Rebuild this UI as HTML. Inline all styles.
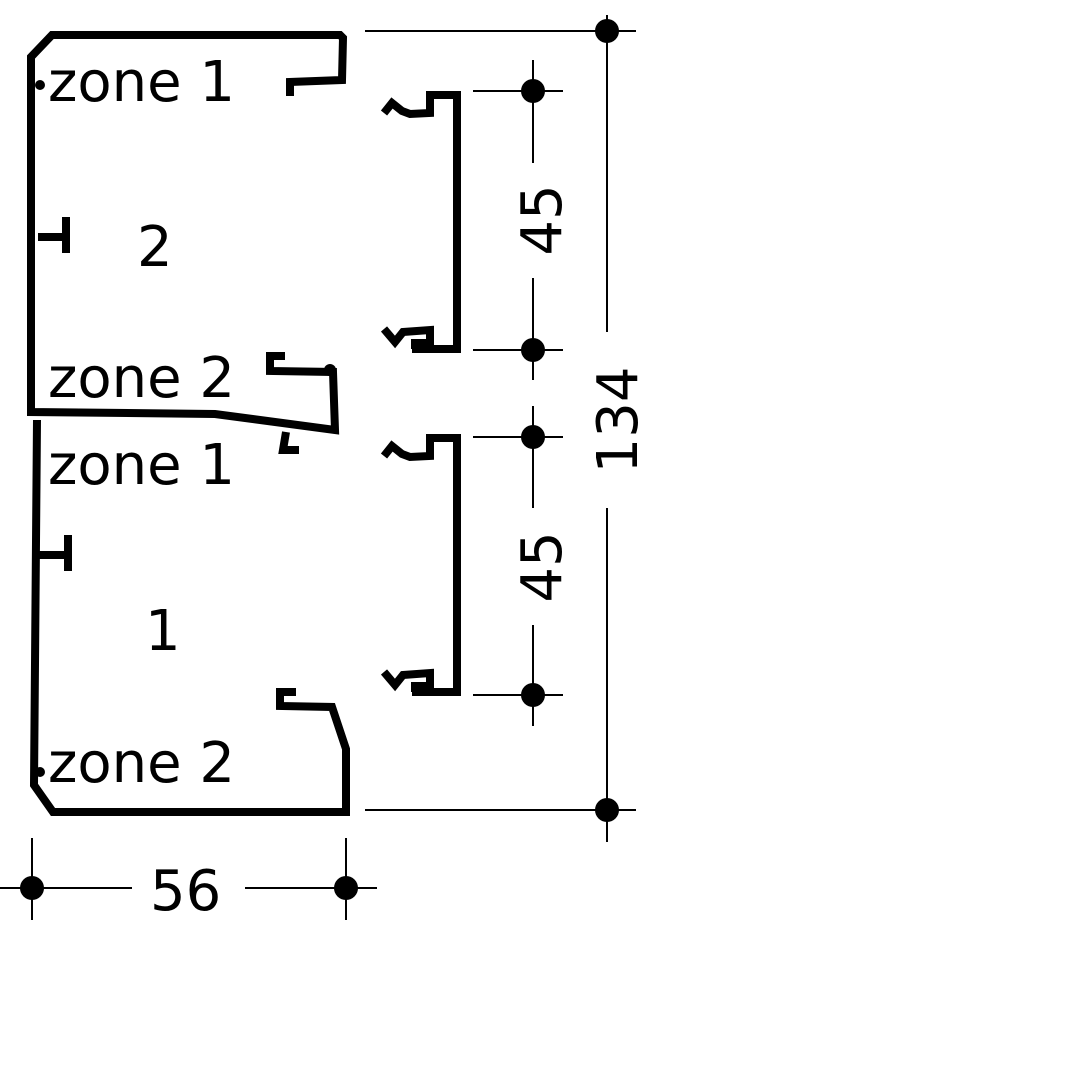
<!DOCTYPE html><html><head><style>body{margin:0;background:#fff}svg{display:block}text{font-family:"DejaVu Sans","Liberation Sans",sans-serif;fill:#000}</style></head><body>
<svg width="1080" height="1080" viewBox="0 0 1080 1080">
<g fill="none" stroke="#000" stroke-width="8" stroke-linejoin="miter">
<path d="M290,96 L290,82 L342,80 L343,38 L340,35 L52,35 L31,57 L31,412 L215,414 L335,430 L333,372 L270,371 L270,356 L285,356"/>
<path d="M37,420 L34,785 L53,812 L346,812 L346,749 L332,707 L280,706 L280,692 L296,692"/>
<path d="M286,432 L283,450 L299,450"/>
<path d="M38,237 L66,237 M66,217 L66,253 M38,555 L68,555 M68,535 L68,571"/>
<path d="M384,113 L392,103 L402,111 L410,114 L430,113 L430,95 L457,95 L457,349 L412,349 M384,329 L395,342 L403,332 L430,330 L430,343 L415,343 L415,349"/>
<path d="M384,456 L392,446 L402,454 L410,457 L430,456 L430,438 L457,438 L457,692 L412,692 M384,672 L395,685 L403,675 L430,673 L430,686 L415,686 L415,692"/>
</g>
<g stroke="#000" stroke-width="2">
<line x1="365" y1="31" x2="636" y2="31"/><line x1="365" y1="810" x2="636" y2="810"/>
<line x1="607" y1="15" x2="607" y2="332"/><line x1="607" y1="508" x2="607" y2="842"/>
<line x1="473" y1="91" x2="563" y2="91"/><line x1="473" y1="350" x2="563" y2="350"/>
<line x1="473" y1="437" x2="563" y2="437"/><line x1="473" y1="695" x2="563" y2="695"/>
<line x1="533" y1="60" x2="533" y2="163"/><line x1="533" y1="278" x2="533" y2="380"/>
<line x1="533" y1="406" x2="533" y2="508"/><line x1="533" y1="625" x2="533" y2="726"/>
<line x1="0" y1="888" x2="132" y2="888"/><line x1="245" y1="888" x2="377" y2="888"/>
<line x1="32" y1="838" x2="32" y2="920"/><line x1="346" y1="838" x2="346" y2="920"/>
</g>
<g fill="#000">
<circle cx="607" cy="31" r="12"/><circle cx="607" cy="810" r="12"/>
<circle cx="533" cy="91" r="12"/><circle cx="533" cy="350" r="12"/>
<circle cx="533" cy="437" r="12"/><circle cx="533" cy="695" r="12"/>
<circle cx="32" cy="888" r="12"/><circle cx="346" cy="888" r="12"/>
<circle cx="40" cy="85" r="5"/><circle cx="40" cy="772" r="5"/><circle cx="330" cy="370" r="6"/>
</g>
<g font-size="56">
<text x="48" y="101">zone 1</text>
<text x="48" y="397">zone 2</text>
<text x="48" y="484">zone 1</text>
<text x="48" y="782">zone 2</text>
<text x="137" y="266">2</text>
<text x="145" y="650">1</text>
<text x="150" y="910">56</text>
<text transform="translate(561,220) rotate(-90)" text-anchor="middle">45</text>
<text transform="translate(561,567) rotate(-90)" text-anchor="middle">45</text>
<text transform="translate(637,420) rotate(-90)" text-anchor="middle">134</text>
</g>
</svg></body></html>
